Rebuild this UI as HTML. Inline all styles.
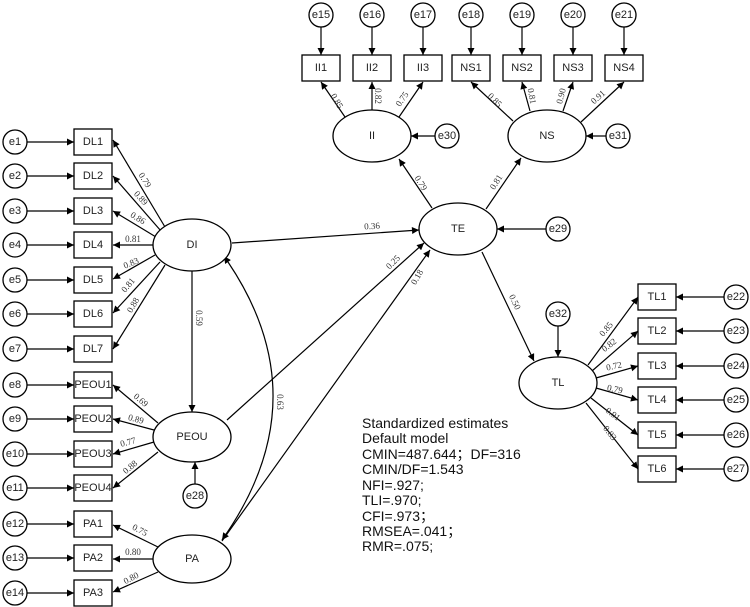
<!DOCTYPE html>
<html><head><meta charset="utf-8"><style>
html,body{margin:0;padding:0;background:#fff;}
svg{display:block;}
.e{fill:#fff;stroke:#000;stroke-width:1.3}
.t{font-family:"Liberation Sans",sans-serif;font-size:11px;fill:#222;text-anchor:middle;dominant-baseline:central}
.l{font-family:"Liberation Serif",serif;font-size:9px;fill:#333;text-anchor:middle;dominant-baseline:central}
.ln{stroke:#000;stroke-width:1.2;fill:none;marker-end:url(#a)}
.st{font-family:"Liberation Sans",sans-serif;font-size:14px;fill:#111}
</style></head><body>
<svg width="750" height="607" viewBox="0 0 750 607" xmlns="http://www.w3.org/2000/svg">
<defs><marker id="a" viewBox="0 0 10 10" refX="10" refY="5" markerWidth="9" markerHeight="7" orient="auto" markerUnits="userSpaceOnUse"><path d="M0,0L10,5L0,10z" fill="#000"/></marker>
<marker id="b" viewBox="0 0 10 10" refX="0" refY="5" markerWidth="9" markerHeight="7" orient="auto-start-reverse" markerUnits="userSpaceOnUse"><path d="M0,0L10,5L0,10z" fill="#000"/></marker></defs>

<!-- left error arrows -->
<g>
<line class="ln" x1="27" y1="142" x2="74" y2="142"/><line class="ln" x1="27" y1="176" x2="74" y2="176"/>
<line class="ln" x1="27" y1="211" x2="74" y2="211"/><line class="ln" x1="27" y1="245" x2="74" y2="245"/>
<line class="ln" x1="27" y1="280" x2="74" y2="280"/><line class="ln" x1="27" y1="314" x2="74" y2="314"/>
<line class="ln" x1="27" y1="349" x2="74" y2="349"/><line class="ln" x1="27" y1="385" x2="74" y2="385"/>
<line class="ln" x1="27" y1="419" x2="74" y2="419"/><line class="ln" x1="27" y1="454" x2="74" y2="454"/>
<line class="ln" x1="27" y1="488" x2="74" y2="488"/><line class="ln" x1="27" y1="524" x2="74" y2="524"/>
<line class="ln" x1="27" y1="558" x2="74" y2="558"/><line class="ln" x1="27" y1="593" x2="74" y2="593"/>
</g>
<g>
<circle class="e" cx="15" cy="142" r="12"/><text class="t" x="15" y="142">e1</text>
<circle class="e" cx="15" cy="176" r="12"/><text class="t" x="15" y="176">e2</text>
<circle class="e" cx="15" cy="211" r="12"/><text class="t" x="15" y="211">e3</text>
<circle class="e" cx="15" cy="245" r="12"/><text class="t" x="15" y="245">e4</text>
<circle class="e" cx="15" cy="280" r="12"/><text class="t" x="15" y="280">e5</text>
<circle class="e" cx="15" cy="314" r="12"/><text class="t" x="15" y="314">e6</text>
<circle class="e" cx="15" cy="349" r="12"/><text class="t" x="15" y="349">e7</text>
<circle class="e" cx="15" cy="385" r="12"/><text class="t" x="15" y="385">e8</text>
<circle class="e" cx="15" cy="419" r="12"/><text class="t" x="15" y="419">e9</text>
<circle class="e" cx="15" cy="454" r="12"/><text class="t" x="15" y="454">e10</text>
<circle class="e" cx="15" cy="488" r="12"/><text class="t" x="15" y="488">e11</text>
<circle class="e" cx="15" cy="524" r="12"/><text class="t" x="15" y="524">e12</text>
<circle class="e" cx="15" cy="558" r="12"/><text class="t" x="15" y="558">e13</text>
<circle class="e" cx="15" cy="593" r="12"/><text class="t" x="15" y="593">e14</text>
</g>
<g>
<rect class="e" x="74" y="129" width="38" height="26"/><text class="t" x="93" y="142">DL1</text>
<rect class="e" x="74" y="163" width="38" height="26"/><text class="t" x="93" y="176">DL2</text>
<rect class="e" x="74" y="198" width="38" height="26"/><text class="t" x="93" y="211">DL3</text>
<rect class="e" x="74" y="232" width="38" height="26"/><text class="t" x="93" y="245">DL4</text>
<rect class="e" x="74" y="267" width="38" height="26"/><text class="t" x="93" y="280">DL5</text>
<rect class="e" x="74" y="301" width="38" height="26"/><text class="t" x="93" y="314">DL6</text>
<rect class="e" x="74" y="336" width="38" height="26"/><text class="t" x="93" y="349">DL7</text>
<rect class="e" x="74" y="372" width="38" height="26"/><text class="t" x="93" y="385">PEOU1</text>
<rect class="e" x="74" y="406" width="38" height="26"/><text class="t" x="93" y="419">PEOU2</text>
<rect class="e" x="74" y="441" width="38" height="26"/><text class="t" x="93" y="454">PEOU3</text>
<rect class="e" x="74" y="475" width="38" height="26"/><text class="t" x="93" y="488">PEOU4</text>
<rect class="e" x="74" y="511" width="38" height="26"/><text class="t" x="93" y="524">PA1</text>
<rect class="e" x="74" y="545" width="38" height="26"/><text class="t" x="93" y="558">PA2</text>
<rect class="e" x="74" y="580" width="38" height="26"/><text class="t" x="93" y="593">PA3</text>
</g>
<!-- DI loadings -->
<line class="ln" x1="165" y1="227" x2="113" y2="140"/>
<line class="ln" x1="161" y1="231" x2="113" y2="176"/>
<line class="ln" x1="156" y1="237" x2="113" y2="211"/>
<line class="ln" x1="153" y1="245" x2="113" y2="245"/>
<line class="ln" x1="155" y1="255" x2="113" y2="279"/>
<line class="ln" x1="160" y1="262" x2="113" y2="313"/>
<line class="ln" x1="165" y1="265" x2="113" y2="349"/>
<text class="l" transform="translate(145,180) rotate(58)">0.79</text>
<text class="l" transform="translate(141,198) rotate(48)">0.89</text>
<text class="l" transform="translate(138,218) rotate(31)">0.86</text>
<text class="l" transform="translate(133,239)">0.81</text>
<text class="l" transform="translate(131,263) rotate(-22)">0.83</text>
<text class="l" transform="translate(128,285) rotate(-50)">0.81</text>
<text class="l" transform="translate(133,305) rotate(-60)">0.88</text>
<!-- PEOU loadings -->
<line class="ln" x1="158" y1="423" x2="113" y2="385"/>
<line class="ln" x1="154" y1="430" x2="113" y2="419"/>
<line class="ln" x1="154" y1="442" x2="113" y2="454"/>
<line class="ln" x1="158" y1="452" x2="113" y2="488"/>
<text class="l" transform="translate(141,400) rotate(40)">0.69</text>
<text class="l" transform="translate(136,419) rotate(15)">0.89</text>
<text class="l" transform="translate(128,442) rotate(-15)">0.77</text>
<text class="l" transform="translate(130,467) rotate(-40)">0.88</text>
<!-- PA loadings -->
<line class="ln" x1="158" y1="547" x2="113" y2="525"/>
<line class="ln" x1="153" y1="559" x2="113" y2="559"/>
<line class="ln" x1="158" y1="572" x2="113" y2="592"/>
<text class="l" transform="translate(140,530) rotate(28)">0.75</text>
<text class="l" transform="translate(133,552)">0.80</text>
<text class="l" transform="translate(131,578) rotate(-28)">0.80</text>

<!-- structural -->
<line class="ln" x1="192" y1="271" x2="192" y2="412"/>
<text class="l" transform="translate(199,318) rotate(90)">0.59</text>
<line class="ln" x1="195" y1="484" x2="195" y2="462"/>
<path d="M228,262 Q321,400 222,540" stroke="#000" stroke-width="1.2" fill="none" marker-start="url(#b)" marker-end="url(#a)"/>
<text class="l" transform="translate(280,402) rotate(90)">0.63</text>
<line class="ln" x1="232" y1="243" x2="419" y2="230"/>
<text class="l" transform="translate(372,226) rotate(-4)">0.36</text>
<line class="ln" x1="227" y1="420" x2="424" y2="243"/>
<text class="l" transform="translate(393,262) rotate(-45)">0.25</text>
<line class="ln" x1="222" y1="541" x2="430" y2="250"/>
<text class="l" transform="translate(417,277) rotate(-60)">0.18</text>

<!-- top -->
<g>
<line class="ln" x1="321" y1="27" x2="321" y2="55"/><line class="ln" x1="372" y1="27" x2="372" y2="55"/>
<line class="ln" x1="423" y1="27" x2="423" y2="55"/><line class="ln" x1="471" y1="27" x2="471" y2="55"/>
<line class="ln" x1="522" y1="27" x2="522" y2="55"/><line class="ln" x1="573" y1="27" x2="573" y2="55"/>
<line class="ln" x1="624" y1="27" x2="624" y2="55"/>
<circle class="e" cx="321" cy="15" r="12"/><text class="t" x="321" y="15">e15</text>
<circle class="e" cx="372" cy="15" r="12"/><text class="t" x="372" y="15">e16</text>
<circle class="e" cx="423" cy="15" r="12"/><text class="t" x="423" y="15">e17</text>
<circle class="e" cx="471" cy="15" r="12"/><text class="t" x="471" y="15">e18</text>
<circle class="e" cx="522" cy="15" r="12"/><text class="t" x="522" y="15">e19</text>
<circle class="e" cx="573" cy="15" r="12"/><text class="t" x="573" y="15">e20</text>
<circle class="e" cx="624" cy="15" r="12"/><text class="t" x="624" y="15">e21</text>
<rect class="e" x="302" y="55" width="38" height="26"/><text class="t" x="321" y="68">II1</text>
<rect class="e" x="353" y="55" width="38" height="26"/><text class="t" x="372" y="68">II2</text>
<rect class="e" x="404" y="55" width="38" height="26"/><text class="t" x="423" y="68">II3</text>
<rect class="e" x="452" y="55" width="38" height="26"/><text class="t" x="471" y="68">NS1</text>
<rect class="e" x="503" y="55" width="38" height="26"/><text class="t" x="522" y="68">NS2</text>
<rect class="e" x="554" y="55" width="38" height="26"/><text class="t" x="573" y="68">NS3</text>
<rect class="e" x="605" y="55" width="38" height="26"/><text class="t" x="624" y="68">NS4</text>
</g>
<line class="ln" x1="345" y1="117" x2="321" y2="82"/>
<line class="ln" x1="372" y1="110" x2="372" y2="82"/>
<line class="ln" x1="399" y1="117" x2="423" y2="82"/>
<text class="l" transform="translate(337,101) rotate(60)">0.85</text>
<text class="l" transform="translate(378,96) rotate(90)">0.82</text>
<text class="l" transform="translate(402,99) rotate(-55)">0.75</text>
<line class="ln" x1="513" y1="121" x2="471" y2="82"/>
<line class="ln" x1="530" y1="111" x2="522" y2="82"/>
<line class="ln" x1="563" y1="111" x2="573" y2="82"/>
<line class="ln" x1="581" y1="122" x2="624" y2="82"/>
<text class="l" transform="translate(495,100) rotate(45)">0.85</text>
<text class="l" transform="translate(532,96) rotate(80)">0.81</text>
<text class="l" transform="translate(561,96) rotate(-75)">0.90</text>
<text class="l" transform="translate(598,97) rotate(-42)">0.91</text>
<line class="ln" x1="435" y1="136" x2="411" y2="136"/>
<line class="ln" x1="606" y1="136" x2="586" y2="136"/>
<line class="ln" x1="546" y1="229" x2="497" y2="229"/>
<line class="ln" x1="432" y1="208" x2="399" y2="159"/>
<text class="l" transform="translate(421,183) rotate(58)">0.79</text>
<line class="ln" x1="486" y1="209" x2="521" y2="158"/>
<text class="l" transform="translate(496,182) rotate(-58)">0.81</text>
<line class="ln" x1="482" y1="252" x2="534" y2="361"/>
<text class="l" transform="translate(515,302) rotate(64)">0.50</text>
<line class="ln" x1="558" y1="326" x2="558" y2="357"/>

<!-- TL -->
<line class="ln" x1="588" y1="365" x2="638" y2="297"/>
<line class="ln" x1="592" y1="371" x2="638" y2="331"/>
<line class="ln" x1="596" y1="378" x2="638" y2="366"/>
<line class="ln" x1="596" y1="388" x2="638" y2="400"/>
<line class="ln" x1="591" y1="398" x2="638" y2="435"/>
<line class="ln" x1="586" y1="403" x2="638" y2="469"/>
<text class="l" transform="translate(606,329) rotate(-50)">0.85</text>
<text class="l" transform="translate(609,345) rotate(-38)">0.82</text>
<text class="l" transform="translate(614,366) rotate(-12)">0.72</text>
<text class="l" transform="translate(615,389) rotate(12)">0.79</text>
<text class="l" transform="translate(613,414) rotate(37)">0.91</text>
<text class="l" transform="translate(610,433) rotate(52)">0.83</text>
<g>
<line class="ln" x1="724" y1="297" x2="676" y2="297"/><line class="ln" x1="724" y1="331" x2="676" y2="331"/>
<line class="ln" x1="724" y1="366" x2="676" y2="366"/><line class="ln" x1="724" y1="400" x2="676" y2="400"/>
<line class="ln" x1="724" y1="435" x2="676" y2="435"/><line class="ln" x1="724" y1="469" x2="676" y2="469"/>
<rect class="e" x="638" y="284" width="38" height="26"/><text class="t" x="657" y="297">TL1</text>
<rect class="e" x="638" y="318" width="38" height="26"/><text class="t" x="657" y="331">TL2</text>
<rect class="e" x="638" y="353" width="38" height="26"/><text class="t" x="657" y="366">TL3</text>
<rect class="e" x="638" y="387" width="38" height="26"/><text class="t" x="657" y="400">TL4</text>
<rect class="e" x="638" y="422" width="38" height="26"/><text class="t" x="657" y="435">TL5</text>
<rect class="e" x="638" y="456" width="38" height="26"/><text class="t" x="657" y="469">TL6</text>
<circle class="e" cx="736" cy="297" r="12"/><text class="t" x="736" y="297">e22</text>
<circle class="e" cx="736" cy="331" r="12"/><text class="t" x="736" y="331">e23</text>
<circle class="e" cx="736" cy="366" r="12"/><text class="t" x="736" y="366">e24</text>
<circle class="e" cx="736" cy="400" r="12"/><text class="t" x="736" y="400">e25</text>
<circle class="e" cx="736" cy="435" r="12"/><text class="t" x="736" y="435">e26</text>
<circle class="e" cx="736" cy="469" r="12"/><text class="t" x="736" y="469">e27</text>
</g>

<!-- latents -->
<ellipse class="e" cx="192" cy="245" rx="39" ry="26"/><text class="t" x="192" y="245">DI</text>
<ellipse class="e" cx="192" cy="437" rx="39" ry="25"/><text class="t" x="192" y="437">PEOU</text>
<circle class="e" cx="195" cy="496" r="12"/><text class="t" x="195" y="496">e28</text>
<ellipse class="e" cx="192" cy="559" rx="39" ry="24"/><text class="t" x="192" y="559">PA</text>
<ellipse class="e" cx="372" cy="136" rx="39" ry="26"/><text class="t" x="372" y="136">II</text>
<circle class="e" cx="447" cy="136" r="12"/><text class="t" x="447" y="136">e30</text>
<ellipse class="e" cx="547" cy="136" rx="39" ry="26"/><text class="t" x="547" y="136">NS</text>
<circle class="e" cx="618" cy="136" r="12"/><text class="t" x="618" y="136">e31</text>
<ellipse class="e" cx="458" cy="229" rx="39" ry="26"/><text class="t" x="458" y="229">TE</text>
<circle class="e" cx="558" cy="229" r="12"/><text class="t" x="558" y="229">e29</text>
<ellipse class="e" cx="558" cy="383" rx="39" ry="26"/><text class="t" x="558" y="383">TL</text>
<circle class="e" cx="558" cy="314" r="12"/><text class="t" x="558" y="314">e32</text>

<g class="st">
<text x="362" y="428">Standardized estimates</text>
<text x="362" y="443">Default model</text>
<text x="362" y="459">CMIN=487.644；DF=316</text>
<text x="362" y="474">CMIN/DF=1.543</text>
<text x="362" y="490">NFI=.927;</text>
<text x="362" y="505">TLI=.970;</text>
<text x="362" y="521">CFI=.973；</text>
<text x="362" y="536">RMSEA=.041；</text>
<text x="362" y="551">RMR=.075;</text>
</g>
</svg>
</body></html>
